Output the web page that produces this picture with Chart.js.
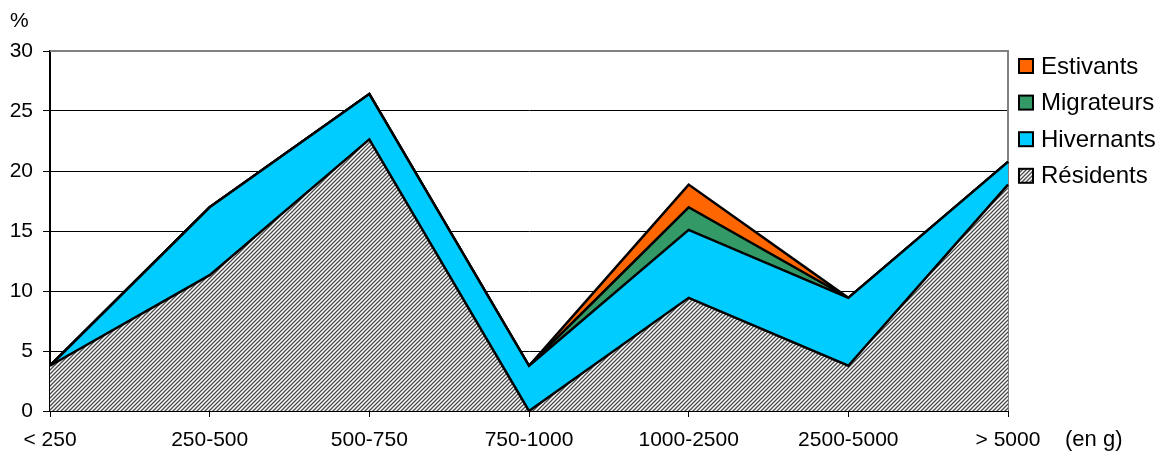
<!DOCTYPE html>
<html>
<head>
<meta charset="utf-8">
<script src="https://cdn.jsdelivr.net/npm/chart.js@4"></script>
<style>
  body { margin: 0; background: #fff; }
  #wrap { width: 1164px; height: 451px; }
</style>
</head>
<body>
<div id="wrap"><canvas id="mainChart"></canvas></div>
<script>
// classes de poids
const labels = ['< 250', '250-500', '500-750', '750-1000', '1000-2500', '2500-5000', '> 5000'];

// valeurs en % (empilées)
const residents  = [3.77, 11.32, 22.64, 0, 9.43, 3.77, 18.87];
const hivernants = [0, 5.66, 3.77, 3.77, 5.66, 5.66, 1.89];
const migrateurs = [0, 0, 0, 0, 1.89, 0, 0];
const estivants  = [0, 0, 0, 0, 1.89, 0, 0];

const yTicks = [0, 5, 10, 15, 20, 25, 30];

const FONT = 'Liberation Sans, Arial, sans-serif';

// motif hachuré pour les résidents
function makeHatch() {
    const c = document.createElement('canvas');
    c.width = 4; c.height = 4;
    const g = c.getContext('2d');
    g.fillStyle = '#fff';
    g.fillRect(0, 0, 4, 4);
    g.strokeStyle = '#4a4a4a';
    g.lineWidth = 1.3;
    g.beginPath();
    g.moveTo(-1, 5); g.lineTo(5, -1);
    g.moveTo(-1, 1); g.lineTo(1, -1);
    g.moveTo(3, 5); g.lineTo(5, 3);
    g.stroke();
    return g.createPattern(c, 'repeat');
}
const hatch = makeHatch();

// cadre gris + textes + légende
const extras = {
    id: 'extras',
    beforeDatasetsDraw(chart) {
        const a = chart.chartArea, ctx = chart.ctx;
        ctx.save();
        ctx.strokeStyle = '#808080';
        ctx.lineWidth = 2;
        ctx.beginPath();
        ctx.moveTo(a.left, a.top);
        ctx.lineTo(a.right, a.top);
        ctx.lineTo(a.right, a.bottom);
        ctx.stroke();
        ctx.restore();
    },
    afterDraw(chart) {
        const ctx = chart.ctx;
        ctx.save();
        ctx.fillStyle = '#000';
        ctx.textBaseline = 'alphabetic';
        ctx.textAlign = 'left';
        ctx.font = '21px ' + FONT;
        ctx.fillText('%', 10, 27);
        ctx.font = '22px ' + FONT;
        ctx.fillText('(en g)', 1065, 446);

        // légende (ordre inverse)
        const ds = chart.data.datasets.slice().reverse();
        ctx.font = '24px ' + FONT;
        ds.forEach((d, i) => {
            const cy = 66 + i * 36.6;
            ctx.fillStyle = d.backgroundColor;
            ctx.fillRect(1019, cy - 7, 14, 14);
            ctx.strokeStyle = '#000';
            ctx.lineWidth = 2;
            ctx.strokeRect(1019, cy - 7, 14, 14);
            ctx.fillStyle = '#000';
            ctx.textBaseline = 'middle';
            ctx.fillText(d.label, 1041, cy + 1);
        });
        ctx.restore();
    }
};

const ctx = document.getElementById('mainChart').getContext('2d');
new Chart(ctx, {
    type: 'line',
    data: {
        labels: labels,
        datasets: [
            { label: 'Résidents', data: residents, backgroundColor: hatch, fill: 'origin' },
            { label: 'Hivernants', data: hivernants, backgroundColor: '#00CCFF', fill: '-1' },
            { label: 'Migrateurs', data: migrateurs, backgroundColor: '#339966', fill: '-1' },
            { label: 'Estivants', data: estivants, backgroundColor: '#FF6600', fill: '-1' }
        ]
    },
    options: {
        responsive: true,
        maintainAspectRatio: false,
        animation: false,
        layout: { padding: { top: 51, right: 156, left: 0, bottom: 0 } },
        elements: {
            line: { tension: 0, borderColor: '#000', borderWidth: 2.5, borderJoinStyle: 'miter' },
            point: { radius: 0, hoverRadius: 0 }
        },
        plugins: { legend: { display: false }, tooltip: { enabled: false } },
        scales: {
            x: {
                offset: false,
                grid: { drawOnChartArea: false, drawTicks: true, tickLength: 6, color: '#000' },
                border: { color: '#000', width: 2 },
                ticks: { color: '#000', font: { family: FONT, size: 21 }, padding: 11, maxRotation: 0, autoSkip: false },
                afterFit(s) { s.height = 40; }
            },
            y: {
                stacked: true,
                min: 0, max: 30,
                afterBuildTicks(s) { s.ticks = yTicks.map(v => ({ value: v })); },
                grid: {
                    color: c => c.tick && c.tick.value === 30 ? '#808080' : '#000',
                    lineWidth: 1,
                    tickLength: 7,
                    tickColor: '#000'
                },
                border: { color: '#000', width: 2 },
                ticks: { color: '#000', font: { family: FONT, size: 21 }, padding: 10 },
                afterFit(s) { s.width = 50; }
            }
        }
    },
    plugins: [extras]
});
</script>
</body>
</html>
